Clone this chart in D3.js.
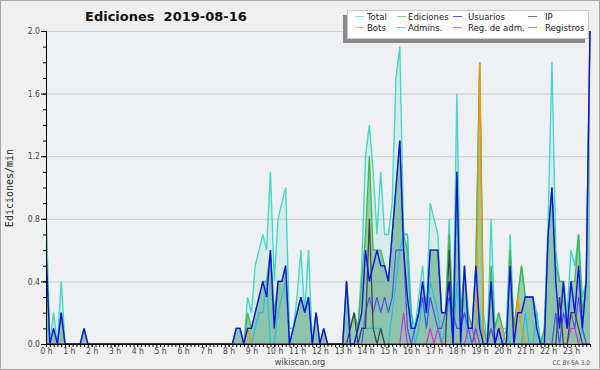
<!DOCTYPE html>
<html><head><meta charset="utf-8">
<script src="https://cdn.jsdelivr.net/npm/d3@7"></script>
<style>
body{margin:0;background:#f0f0f0}
text{font-family:"DejaVu Sans Condensed","DejaVu Sans",sans-serif;font-stretch:condensed}
</style>
</head><body><svg id="c" width="600" height="370"></svg>
<script>
// ---- data (one value per 10 minutes, edits/min) ----
const hourLabels = d3.range(24).map(h => h + " h");
const yTickValues = [0, 0.4, 0.8, 1.2, 1.6, 2.0];
const total = [
0.9,0,0.2,0,0.4,0, 0,0,0,0,0.1,0, 0,0,0,0,0,0, 0,0,0,0,0,0,
0,0,0,0,0,0, 0,0,0,0,0,0, 0,0,0,0,0,0, 0,0,0,0,0,0,
0,0,0.1,0.1,0,0.3, 0.2,0.5,0.6,0.7,0.6,1.1, 0.4,0.8,0.9,1.0,0.1,0.1, 0.3,0.6,0.2,0.6,0,0.2,
0,0.1,0,0,0,0, 0,0.4,0.1,0.2,0.1,0.5, 1.2,1.4,1.1,0.7,1.1,0.7, 0.7,0.9,1.7,1.9,0.7,0.7,
0.2,0.1,0.3,0.5,0.2,0.9, 0.8,0.7,0.2,0.2,0.8,0.1, 1.6,0.2,0.3,0.1,0.1,0.5, 1.8,0.2,0,0.8,0.1,0.2,
0.1,0.1,0.7,0.1,0.3,0.5, 0.3,0.3,0.3,0.2,0,0.1, 0.8,1.8,0.6,0.4,0.4,0.2, 0.6,0.5,0.7,0.3,0.4,2.0];
const ediciones = [
0.6,0,0.1,0,0.2,0, 0,0,0,0,0.1,0, 0,0,0,0,0,0, 0,0,0,0,0,0,
0,0,0,0,0,0, 0,0,0,0,0,0, 0,0,0,0,0,0, 0,0,0,0,0,0,
0,0,0.1,0.1,0,0.2, 0.1,0.2,0.3,0.4,0.4,0.6, 0.2,0.4,0.4,0.5,0,0.1, 0.2,0.3,0.2,0.3,0,0.2,
0,0.1,0,0,0,0, 0,0.4,0.1,0.2,0.1,0.4, 0.7,1.2,0.6,0.6,0.6,0.5, 0.4,0.7,1.0,1.3,0.7,0.6,
0.1,0.1,0.2,0.4,0.2,0.6, 0.6,0.6,0.2,0.2,0.7,0.1, 1.1,0.2,0.5,0.2,0.1,0.5, 1.8,0.1,0,0.5,0.1,0.2,
0.1,0,0.6,0.1,0.3,0.5, 0.3,0.3,0.3,0.1,0,0.1, 0.7,1.0,0.5,0.4,0.4,0.1, 0.4,0.4,0.7,0.2,0.4,2.0];
const usuarios = [
0.6,0,0.1,0,0.2,0, 0,0,0,0,0.1,0, 0,0,0,0,0,0, 0,0,0,0,0,0,
0,0,0,0,0,0, 0,0,0,0,0,0, 0,0,0,0,0,0, 0,0,0,0,0,0,
0,0,0.1,0.1,0,0.1, 0.1,0.2,0.3,0.4,0.3,0.6, 0.1,0.4,0.4,0.5,0,0.1, 0.2,0.3,0.2,0.3,0,0.2,
0,0.1,0,0,0,0, 0,0.4,0,0,0.1,0.2, 0.6,0.4,0.5,0.6,0.5,0.5, 0.4,0.7,1.0,1.3,0.6,0.3,
0.1,0.1,0.2,0.4,0.2,0.6, 0.6,0.6,0.2,0.2,0.4,0, 1.1,0,0.5,0.1,0.1,0.5, 0.1,0,0,0.4,0,0.1,
0,0,0.5,0,0.2,0.2, 0.3,0.3,0.3,0.1,0,0, 0.7,1.0,0.4,0.1,0.4,0.1, 0.4,0.2,0.5,0.1,0.4,2.0];
const ip = [
0,0,0,0,0,0, 0,0,0,0,0,0, 0,0,0,0,0,0, 0,0,0,0,0,0,
0,0,0,0,0,0, 0,0,0,0,0,0, 0,0,0,0,0,0, 0,0,0,0,0,0,
0,0,0,0,0,0, 0,0,0,0,0,0, 0,0,0,0,0,0, 0,0,0,0,0,0,
0,0,0,0,0,0, 0,0,0.1,0.2,0,0.1, 0.1,0.8,0.1,0,0.1,0, 0,0,0,0,0,0,
0,0,0,0,0,0, 0,0,0,0,0.6,0, 0,0,0,0,0,0, 0,0,0,0,0,0,
0,0,0,0,0,0, 0,0,0,0,0,0, 0,0,0,0.3,0,0, 0.2,0.2,0.1,0,0,0];
const bots = [
0,0,0,0,0,0, 0,0,0,0,0,0, 0,0,0,0,0,0, 0,0,0,0,0,0,
0,0,0,0,0,0, 0,0,0,0,0,0, 0,0,0,0,0,0, 0,0,0,0,0,0,
0,0,0,0,0,0.1, 0,0,0,0,0,0, 0,0,0,0,0,0, 0,0,0,0,0,0,
0,0,0,0,0,0, 0,0,0,0,0,0, 0,0,0,0,0,0, 0,0,0,0,0,0,
0,0,0,0,0,0, 0,0,0,0,0,0, 0,0,0,0,0,0, 1.8,0,0,0.1,0,0.1,
0.1,0,0,0,0.3,0.1, 0,0,0,0,0,0, 0,0,0,0,0,0, 0,0,0,0,0,0];
const admins = [
0,0,0,0,0,0, 0,0,0,0,0,0, 0,0,0,0,0,0, 0,0,0,0,0,0,
0,0,0,0,0,0, 0,0,0,0,0,0, 0,0,0,0,0,0, 0,0,0,0,0,0,
0,0,0,0,0,0, 0,0.1,0.2,0.2,0.4,0, 0,0.2,0.3,0.4,0,0, 0,0,0,0,0,0,
0,0,0,0,0,0, 0,0,0,0,0,0.1, 0.1,0.1,0.1,0.1,0.1,0, 0,0.2,0.4,0.6,0.7,0.7,
0.2,0,0.1,0.3,0.1,0.4, 0.3,0.2,0,0.1,0.3,0, 0.4,0.1,0.2,0,0,0.1, 0.2,0,0,0,0,0,
0,0.1,0,0,0,0, 0.2,0,0,0.2,0,0, 0,0,0.2,0,0,0, 0,0,0,0.1,0,0];
const regAdm = [
0,0,0,0,0,0, 0,0,0,0,0,0, 0,0,0,0,0,0, 0,0,0,0,0,0,
0,0,0,0,0,0, 0,0,0,0,0,0, 0,0,0,0,0,0, 0,0,0,0,0,0,
0,0,0,0,0,0, 0,0,0,0,0,0, 0,0,0,0,0,0, 0,0,0,0,0,0,
0,0,0,0,0,0, 0,0,0,0,0,0, 0,0,0,0,0,0, 0,0,0,0,0.2,0,
0,0,0,0,0,0.1, 0,0.1,0,0,0,0, 0,0,0,0.1,0.1,0, 0,0,0,0,0,0,
0,0,0,0,0,0, 0,0,0,0,0,0, 0,0,0,0,0,0, 0.1,0.1,0,0,0,0];
const registros = [
0,0,0,0,0,0, 0,0,0,0,0,0, 0,0,0,0,0,0, 0,0,0,0,0,0,
0,0,0,0,0,0, 0,0,0,0,0,0, 0,0,0,0,0,0, 0,0,0,0,0,0,
0,0,0,0,0,0, 0,0,0,0,0,0, 0,0,0,0,0,0, 0,0,0,0,0,0,
0,0,0,0,0,0, 0,0,0,0,0,0, 0.2,0.3,0.2,0.3,0.2,0.3, 0.2,0.3,0.6,0.6,0.6,0.1,
0,0.1,0.2,0.3,0.1,0.3, 0.2,0.1,0.1,0.2,0.3,0.2, 0.1,0.1,0.2,0.1,0,0.1, 0,0,0,0.1,0,0.1,
0,0,0,0,0,0, 0,0,0,0,0,0, 0,0,0.2,0,0.2,0.1, 0.2,0.1,0.3,0.1,0,0];

// ---- layout ----
const svg = d3.select("#c");
const W = 600, H = 370;
const L = 46, R = 590, T = 31, B = 344;
const N = total.length;
const x = d3.scaleLinear().domain([0, N - 1]).range([L, R]);
const y = d3.scaleLinear().domain([0, 2]).range([B, T]);

svg.append("rect").attr("x",0.5).attr("y",0.5).attr("width",W-1).attr("height",H-1)
  .attr("fill","#f0f0f0").attr("stroke","#a8a8a8");
svg.append("rect").attr("x",L).attr("y",T).attr("width",R-L).attr("height",B-T).attr("fill","#eef0f3");

// grid
svg.append("g").selectAll("line").data(yTickValues.filter(d => d > 0)).join("line")
  .attr("x1", L).attr("x2", R).attr("y1", d => y(d) + 0.5).attr("y2", d => y(d) + 0.5)
  .attr("stroke", "#cfcfcf").attr("stroke-width", 1);

svg.append("defs").append("clipPath").attr("id","clip")
  .append("rect").attr("x",L).attr("y",T-2).attr("width",R-L+2).attr("height",B-T+2);
const plot = svg.append("g").attr("clip-path","url(#clip)");

const area = vals => d3.area().x((d,i) => x(i)).y0(y(0)).y1(d => y(d))(vals);
const line = vals => d3.line().x((d,i) => x(i)).y(d => y(d))(vals);

plot.append("path").attr("d", area(total)).attr("fill", "rgba(130,225,205,0.2)");
plot.append("path").attr("d", area(ediciones)).attr("fill", "rgba(50,160,70,0.4)");
plot.append("path").attr("d", area(usuarios)).attr("fill", "rgba(30,30,200,0.06)");

const series = [
  {name:"Total", vals: total, color:"#44d8c8", w:1.4},
  {name:"Ediciones", vals: ediciones, color:"#44b64a", w:1.3},
  {name:"Admins.", vals: admins, color:"#22c0e0", w:1.2},
  {name:"Bots", vals: bots, color:"#ff9000", w:1.3},
  {name:"Reg. de adm.", vals: regAdm, color:"#d030e0", w:1.2},
  {name:"Registros", vals: registros, color:"#5050f0", w:1.2},
  {name:"IP", vals: ip, color:"#404040", w:1.2},
  {name:"Usuarios", vals: usuarios, color:"#1010e8", w:1.4}
];
series.forEach(s => {
  plot.append("path").attr("d", line(s.vals)).attr("fill","none")
    .attr("stroke", s.color).attr("stroke-width", s.w).attr("stroke-linejoin","miter");
});

// axes
const yMinor = d3.axisLeft(y).tickValues(d3.range(0, 21).map(k => k / 10)).tickSize(3).tickSizeOuter(0).tickFormat("");
const yMajor = d3.axisLeft(y).tickValues(yTickValues).tickSize(5).tickSizeOuter(0).tickPadding(1).tickFormat(d3.format(".1f"));
const gy1 = svg.append("g").attr("transform", `translate(${L},0)`).call(yMinor);
const gy2 = svg.append("g").attr("transform", `translate(${L},0)`).call(yMajor);
[gy1, gy2].forEach(g => { g.selectAll("line").attr("stroke","#000"); g.select(".domain").attr("stroke","#000"); });
gy2.selectAll("text").attr("font-size", 8.5).attr("fill", "#444")
  .style("font-family", '"DejaVu Sans Condensed","DejaVu Sans",sans-serif');

const xMinor = d3.axisBottom(x).tickValues(d3.range(0, N)).tickSize(3).tickSizeOuter(0).tickFormat("");
const xMajor = d3.axisBottom(x).tickValues(d3.range(0, N, 6)).tickSize(3).tickSizeOuter(0).tickPadding(1)
  .tickFormat(i => hourLabels[i / 6]);
const gx1 = svg.append("g").attr("transform", `translate(0,${B})`).call(xMinor);
const gx2 = svg.append("g").attr("transform", `translate(0,${B})`).call(xMajor);
[gx1, gx2].forEach(g => { g.selectAll("line").attr("stroke","#000"); g.select(".domain").attr("stroke","#000").attr("stroke-width",1.2); });
gx2.selectAll("text").attr("font-size", 8.5).attr("fill", "#444")
  .style("font-family", '"DejaVu Sans Condensed","DejaVu Sans",sans-serif');

// titles
svg.append("text").attr("x", 85).attr("y", 21).attr("font-size", 13).attr("font-weight", "bold")
  .style("font-family", '"DejaVu Sans",sans-serif').style("font-stretch","normal")
  .attr("fill", "#111").style("white-space","pre").text("Ediciones  2019-08-16");
svg.append("text").attr("transform", "translate(13,188) rotate(-90)").attr("text-anchor","middle")
  .attr("font-size", 10).style("font-family", '"DejaVu Sans Mono",monospace').style("font-stretch","normal")
  .attr("fill","#222").text("Ediciones/min");
svg.append("text").attr("x", 300).attr("y", 365).attr("text-anchor","middle").attr("font-size", 9)
  .attr("fill","#444").text("wikiscan.org");
svg.append("text").attr("x", 590).attr("y", 365).attr("text-anchor","end").attr("font-size", 6.5)
  .attr("fill","#555").text("CC BY-SA 3.0");

// legend
const lg = svg.append("g");
lg.append("rect").attr("x", 343).attr("y", 15).attr("width", 242).attr("height", 28).attr("fill", "#8a8a8a");
lg.append("rect").attr("x", 347.5).attr("y", 10.5).attr("width", 241).attr("height", 28)
  .attr("fill", "#ffffff").attr("stroke", "#c8c8c8");
const legendOrder = ["Total","Bots","Ediciones","Admins.","Usuarios","Reg. de adm.","IP","Registros"];
const colLine = [355, 397, 453, 528], colText = [367, 408, 468, 545], rowY = [20, 31];
legendOrder.forEach((nm, k) => {
  const s = series.find(d => d.name === nm);
  const c = Math.floor(k / 2), r = k % 2;
  lg.append("line").attr("x1", colLine[c]).attr("x2", colLine[c] + 9)
    .attr("y1", rowY[r] - 3.5).attr("y2", rowY[r] - 3.5).attr("stroke", s.color).attr("stroke-opacity", 0.7).attr("stroke-width", 1);
  lg.append("text").attr("x", colText[c]).attr("y", rowY[r]).attr("font-size", 9.5).attr("fill", "#222").text(nm);
});
</script>
</body></html>
